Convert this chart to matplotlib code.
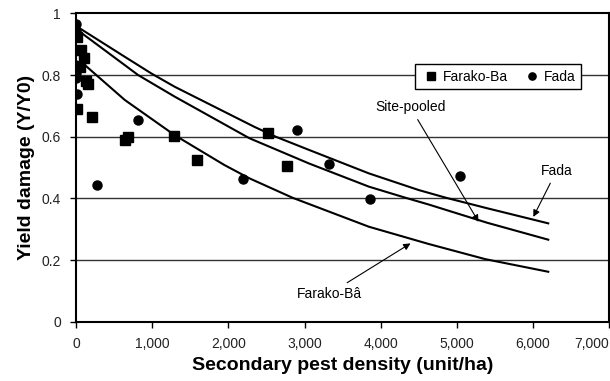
#!/usr/bin/env python

import matplotlib.pyplot as plt
from matplotlib.ticker import FuncFormatter

plt.rcParams['font.family'] = 'Liberation Sans'
plt.rcParams['font.size'] = 10

farako_x = [4, 12, 47, 60, 103, 122, 148, 200, 637, 680, 1279, 1589, 2523, 2768]
farako_y = [0.689, 0.924, 0.827, 0.881, 0.856, 0.78, 0.77, 0.663, 0.589, 0.598, 0.602, 0.523, 0.611, 0.505]

fada_x = [0, 0, 0, 0, 5, 265, 811, 2187, 2899, 3322, 3855, 5048]
fada_y = [0.967, 0.944, 0.805, 0.79, 0.74, 0.443, 0.654, 0.462, 0.622, 0.511, 0.397, 0.472]

# fitted curves, traced point by point
fada_cx = [0, 47, 637, 986, 1292, 2340, 2620, 3060, 3846, 4501, 4859, 5400, 6204]
fada_cy = [0.957, 0.951, 0.859, 0.805, 0.762, 0.632, 0.600, 0.557, 0.481, 0.427, 0.402, 0.368, 0.319]

pooled_cx = [0, 47, 637, 811, 1292, 2275, 3060, 3846, 4327, 4633, 5400, 6204]
pooled_cy = [0.948, 0.940, 0.832, 0.80, 0.730, 0.595, 0.513, 0.438, 0.402, 0.380, 0.321, 0.266]

farako_cx = [0, 113, 637, 1292, 1947, 2275, 2842, 3846, 4633, 5375, 6204]
farako_cy = [0.845, 0.832, 0.719, 0.605, 0.508, 0.465, 0.402, 0.308, 0.252, 0.203, 0.162]

fig = plt.figure(figsize=(6.1, 3.81), dpi=100)
ax = fig.add_axes([0.1252, 0.1556, 0.8728, 0.8094])

for yv in [0.2, 0.4, 0.6, 0.8]:
    ax.axhline(yv, color='#333333', lw=1.0, zorder=1)

ax.plot(fada_cx, fada_cy, color='black', lw=1.5, zorder=2)
ax.plot(pooled_cx, pooled_cy, color='black', lw=1.5, zorder=2)
ax.plot(farako_cx, farako_cy, color='black', lw=1.5, zorder=2)

ax.plot(farako_x, farako_y, 's', color='black', ms=7, label='Farako-Ba', zorder=3)
ax.plot(fada_x, fada_y, 'o', color='black', ms=6.5, label='Fada', zorder=3)

arrow = dict(arrowstyle='-|>', color='black', lw=0.8, mutation_scale=10, shrinkA=2, shrinkB=0)
ax.annotate('Site-pooled', xy=(5288, 0.324), xytext=(4392, 0.695),
            ha='center', va='center', arrowprops=arrow)
ax.annotate('Fada', xy=(6008, 0.340), xytext=(6313, 0.489),
            ha='center', va='center', arrowprops=arrow)
ax.annotate('Farako-B\u00e2', xy=(4393, 0.254), xytext=(3322, 0.090),
            ha='center', va='center', arrowprops=arrow)

ax.set_xlim(0, 7000)
ax.set_ylim(0, 1)
ax.set_xticks(range(0, 7001, 1000))
ax.set_yticks([0, 0.2, 0.4, 0.6, 0.8, 1])
ax.xaxis.set_major_formatter(FuncFormatter(lambda v, p: f'{int(v):,}'))
ax.yaxis.set_major_formatter(FuncFormatter(lambda v, p: f'{v:g}'))
ax.tick_params(direction='out', length=4, width=1, colors='black', labelcolor='#222222')
ax.tick_params(axis='x', pad=7)
ax.tick_params(axis='y', pad=7)

# last x label sits inside the figure, like the original
fig.canvas.draw()
ax.get_xticklabels()[-1].set_horizontalalignment('right')

for s in ax.spines.values():
    s.set_linewidth(1.5)

ax.set_xlabel('Secondary pest density (unit/ha)', fontsize=14, fontweight='bold', labelpad=4)
ax.set_ylabel('Yield damage (Y/Y0)', fontsize=14, fontweight='bold', labelpad=5)

leg = ax.legend(loc='upper left', bbox_to_anchor=(0.636, 0.835), ncol=2, frameon=True,
                fancybox=False, edgecolor='black', handlelength=1.5, handletextpad=0.1,
                columnspacing=1.0, borderpad=0.4, borderaxespad=0, markerscale=0.8,
                fontsize=10, framealpha=1)
leg.get_frame().set_linewidth(1.0)

fig.savefig('out.png', dpi=100)
